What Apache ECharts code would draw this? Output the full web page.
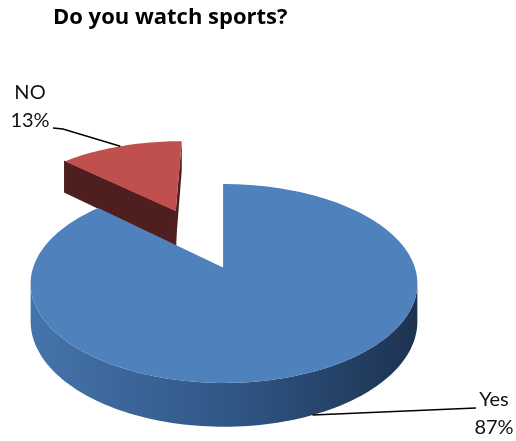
<!DOCTYPE html>
<html>
<head>
<meta charset="utf-8">
<script src="https://cdn.jsdelivr.net/npm/echarts@6/dist/echarts.min.js"></script>
<style>
  html, body { margin: 0; padding: 0; background: #fff; }
  #chart { width: 516px; height: 441px; }
</style>
</head>
<body>
<div id="chart"></div>
<script>
// Survey answers
const categories = ['Yes', 'NO'];
const values = [87, 13];
const titleText = 'Do you watch sports?';

// Slice appearance
const topColors = ['#4F81BD', '#C0504D'];
const wallStops = [
  [[0, '#4574AC'], [0.55, '#2F5483'], [1, '#1D3250']],
  [[0, '#6E2B29'], [1, '#3A1514']]
];
const radialColors = ['#1F3552', '#4E1F1E'];
const explode = [0, 0.7];

// Leader line bends and label centres
const labelLayout = [
  { bends: [[476, 408]], text: [494, 414] },
  { bends: [[63, 129], [53, 128]], text: [30, 107] }
];

// Tilted-disc projection (slight perspective: near edge larger than far edge)
const P = { cx: 224, cy: 268, rx: 191, ry: 97, k: 0.156, depth: 37 };
const total = values.reduce((a, b) => a + b, 0);

function proj(u, v, low) {
  const s = 1 / (1 - P.k * v);
  return [P.cx + P.rx * u * s, P.cy + P.ry * v * s + (low ? P.depth * s : 0)];
}
function signedArea(pts) {
  let a = 0;
  for (let i = 0; i < pts.length; i++) {
    const p = pts[i], q = pts[(i + 1) % pts.length];
    a += p[0] * q[1] - q[0] * p[1];
  }
  return a / 2;
}

function renderSlice(params, api) {
  const idx = params.dataIndex;
  const val = api.value(0);
  let cum = 0;
  for (let i = 0; i < idx; i++) cum += values[i];
  const t0 = 2 * Math.PI * cum / total;
  const t1 = 2 * Math.PI * (cum + val) / total;
  const tm = (t0 + t1) / 2;
  const du = explode[idx] * Math.sin(tm);
  const dv = -explode[idx] * Math.cos(tm);

  const n = Math.max(8, Math.ceil((t1 - t0) / (Math.PI / 120)));
  const topArc = [], lowArc = [];
  for (let j = 0; j <= n; j++) {
    const t = t0 + (t1 - t0) * j / n;
    topArc.push(proj(du + Math.sin(t), dv - Math.cos(t), false));
    lowArc.push(proj(du + Math.sin(t), dv - Math.cos(t), true));
  }
  const apexTop = proj(du, dv, false);
  const apexLow = proj(du, dv, true);

  const base = 100 + Math.round(40 * (dv - 0.5 * Math.cos(tm)));
  const children = [];

  // outer wall: runs of front-facing segments
  let run = null;
  const runs = [];
  for (let j = 0; j < n; j++) {
    const quad = [topArc[j], topArc[j + 1], lowArc[j + 1], lowArc[j]];
    if (signedArea(quad) < 0) {
      if (!run) { run = [j, j + 1]; runs.push(run); } else run[1] = j + 1;
    } else run = null;
  }
  runs.forEach(r => {
    const pts = topArc.slice(r[0], r[1] + 1).concat(lowArc.slice(r[0], r[1] + 1).reverse());
    children.push({
      type: 'polygon', z2: base,
      shape: { points: pts },
      style: {
        fill: new echarts.graphic.LinearGradient(0, 0, 1, 0,
          wallStops[idx].map(s => ({ offset: s[0], color: s[1] }))),
        stroke: null
      }
    });
  });

  // radial cut faces
  const startFace = [apexTop, topArc[0], lowArc[0], apexLow];
  const endFace = [apexTop, topArc[n], lowArc[n], apexLow];
  if (signedArea(startFace) <= 0.5) {
    children.push({
      type: 'polygon', z2: base + 1, shape: { points: startFace },
      style: { fill: radialColors[idx], stroke: radialColors[idx], lineWidth: 1.2 }
    });
  }
  if (signedArea(endFace) > 0.5) {
    children.push({
      type: 'polygon', z2: base + 1, shape: { points: endFace },
      style: { fill: radialColors[idx], stroke: null }
    });
  }

  // top face
  children.push({
    type: 'polygon', z2: base + 2,
    shape: { points: [apexTop].concat(topArc) },
    style: { fill: topColors[idx], stroke: null }
  });

  // leader line and label
  const mu = du + Math.sin(tm), mv = dv - Math.cos(tm);
  const anchor = mv > 0 ? proj(mu, mv, true) : proj(mu, mv, false);
  const lay = labelLayout[idx];
  children.push({
    type: 'polyline', z2: 1000,
    shape: { points: [anchor].concat(lay.bends) },
    style: { stroke: '#000', lineWidth: 1.5, fill: null }
  });
  const pct = Math.round(val / total * 100) + '%';
  children.push({
    type: 'text', z2: 1001,
    style: {
      text: categories[idx] + '\n' + pct,
      x: lay.text[0], y: lay.text[1],
      align: 'center', verticalAlign: 'middle',
      font: '20px Lato', lineHeight: 28, fill: '#111'
    }
  });

  return { type: 'group', children: children };
}

const chart = echarts.init(document.getElementById('chart'), null, { renderer: 'canvas' });
chart.setOption({
  animation: false,
  backgroundColor: '#fff',
  title: {
    text: titleText,
    left: 48, top: 2,
    textStyle: { fontFamily: 'Open Sans', fontWeight: 'bold', fontSize: 22, color: '#000' }
  },
  series: [{
    type: 'custom',
    coordinateSystem: 'none',
    renderItem: renderSlice,
    data: categories.map((c, i) => ({ name: c, value: values[i] }))
  }]
});
</script>
</body>
</html>
